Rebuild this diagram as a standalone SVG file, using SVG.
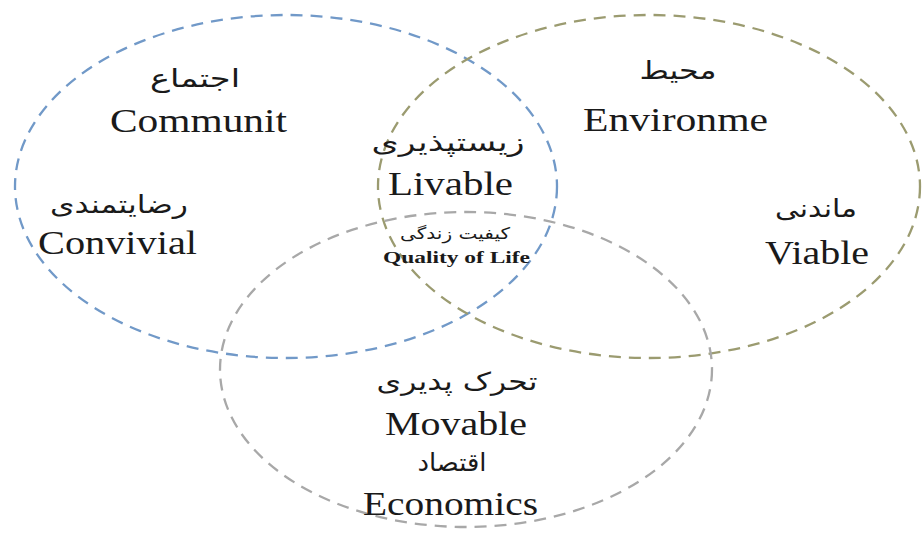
<svg xmlns="http://www.w3.org/2000/svg" width="922" height="535" viewBox="0 0 922 535">
<style>
.ring{fill:none;stroke-width:2.3;stroke-dasharray:12 8}
.en{font-family:"Liberation Serif","Times New Roman",serif;font-size:33px;fill:#1a1a1a;text-anchor:middle}
.fa{font-family:"DejaVu Sans","Noto Sans",sans-serif;font-size:25px;fill:#1a1a1a;text-anchor:middle}
.b{font-weight:bold;font-size:16px}
.s{font-size:16px}
</style>
<rect width="922" height="535" fill="#ffffff"/>
<g id="community">
<ellipse class="ring" cx="286" cy="186.5" rx="271" ry="171.5" stroke="#7199c8"/>
<text class="fa" x="195" y="87" textLength="90" lengthAdjust="spacingAndGlyphs">اجتماع</text>
<text class="en" x="198.5" y="132" textLength="177" lengthAdjust="spacingAndGlyphs">Communit</text>
<text class="fa" x="119" y="213" textLength="138" lengthAdjust="spacingAndGlyphs">رضایتمندی</text>
<text class="en" x="117.5" y="254" textLength="159" lengthAdjust="spacingAndGlyphs">Convivial</text>
</g>
<g id="environment">
<ellipse class="ring" cx="649" cy="186.5" rx="271" ry="171.5" stroke="#9b9b70"/>
<text class="fa" x="678" y="79" textLength="77" lengthAdjust="spacingAndGlyphs">محیط</text>
<text class="en" x="675.5" y="131" textLength="185" lengthAdjust="spacingAndGlyphs">Environme</text>
<text class="fa" x="816" y="217" textLength="82" lengthAdjust="spacingAndGlyphs">ماندنی</text>
<text class="en" x="817" y="264" textLength="104" lengthAdjust="spacingAndGlyphs">Viable</text>
</g>
<g id="economics">
<ellipse class="ring" cx="466" cy="369.5" rx="246" ry="157.5" stroke="#a8a8a8"/>
<text class="fa" x="457" y="390" textLength="161" lengthAdjust="spacingAndGlyphs">تحرک پدیری</text>
<text class="en" x="456" y="435" textLength="142" lengthAdjust="spacingAndGlyphs">Movable</text>
<text class="fa" x="452" y="471" textLength="69" font-size="22" lengthAdjust="spacingAndGlyphs">اقتصاد</text>
<text class="en" x="450.5" y="515" textLength="175" lengthAdjust="spacingAndGlyphs">Economics</text>
</g>
<g id="livable">
<text class="fa" x="448" y="151" textLength="153" lengthAdjust="spacingAndGlyphs">زیستپذیری</text>
<text class="en" x="450.5" y="195" textLength="125" lengthAdjust="spacingAndGlyphs">Livable</text>
<text class="fa s" x="455" y="239" textLength="110" lengthAdjust="spacingAndGlyphs">کیفیت زندگی</text>
<text class="en b" x="456.5" y="263" textLength="147" lengthAdjust="spacingAndGlyphs">Quality of Life</text>
</g>
<g id="connectors"/>
</svg>
